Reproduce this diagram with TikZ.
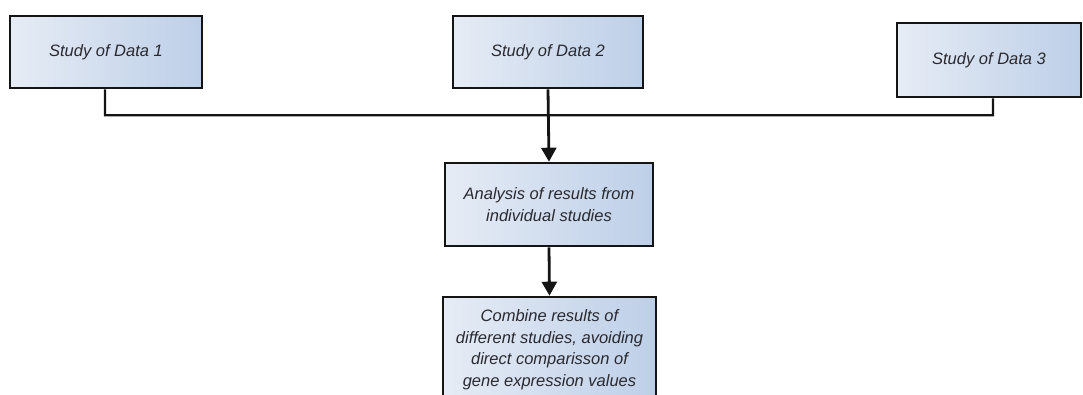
\documentclass[tikz,border=0pt]{standalone}
\usepackage{fontspec}
\setmainfont{Liberation Sans}
\usetikzlibrary{arrows.meta,calc}
\definecolor{boxlight}{HTML}{E6ECF5}
\definecolor{boxdark}{HTML}{BDCFE8}
\definecolor{boxline}{HTML}{141414}
\definecolor{boxtext}{HTML}{2A2A30}
\begin{document}
\begin{tikzpicture}[x=1bp,y=-1bp,
  stepbox/.style={draw=boxline, line width=2.6bp, left color=boxlight, right color=boxdark,
    shading angle=90, inner sep=0pt, align=center, text=boxtext,
    font=\fontsize{16.5bp}{21.5bp}\selectfont\itshape},
  link/.style={draw=boxline, line width=2.2bp},
  flow/.style={draw=boxline, line width=2.8bp, -{Triangle[length=14bp,width=15bp]}}]
  \useasboundingbox (0,0) rectangle (1083,394);
  \begin{scope}
    \clip (0,0) rectangle (1083,394);
    % the three input studies
    \node[stepbox, minimum width=192bp, minimum height=72bp] (s1) at (106,52) {Study of Data 1};
    \node[stepbox, minimum width=190bp, minimum height=72bp] (s2) at (548,52) {Study of Data 2};
    \node[stepbox, minimum width=184bp, minimum height=74bp] (s3) at (989,60) {Study of Data 3};
    % downstream steps
    \node[stepbox, minimum width=208bp, minimum height=83bp] (an) at (549,204.5)
      {Analysis of results from\\individual studies};
    \node[stepbox, minimum width=213bp, minimum height=105bp] (co) at (549.5,349.5)
      {Combine results of\\different studies, avoiding\\direct comparisson of\\gene expression values};
    % collecting bus joining the studies
    \coordinate (busL) at ($(s1.south)+(-1,26)$);
    \coordinate (busR) at ($(s3.south)+(4,17)$);
    \draw[link] (s1.south -| busL) -- (busL) -- (busR) -- (s3.south -| busR);
    \draw[flow] (s2.south) -- (an.north);
    \draw[flow] (an.south) -- (co.north);
  \end{scope}
\end{tikzpicture}
\end{document}
